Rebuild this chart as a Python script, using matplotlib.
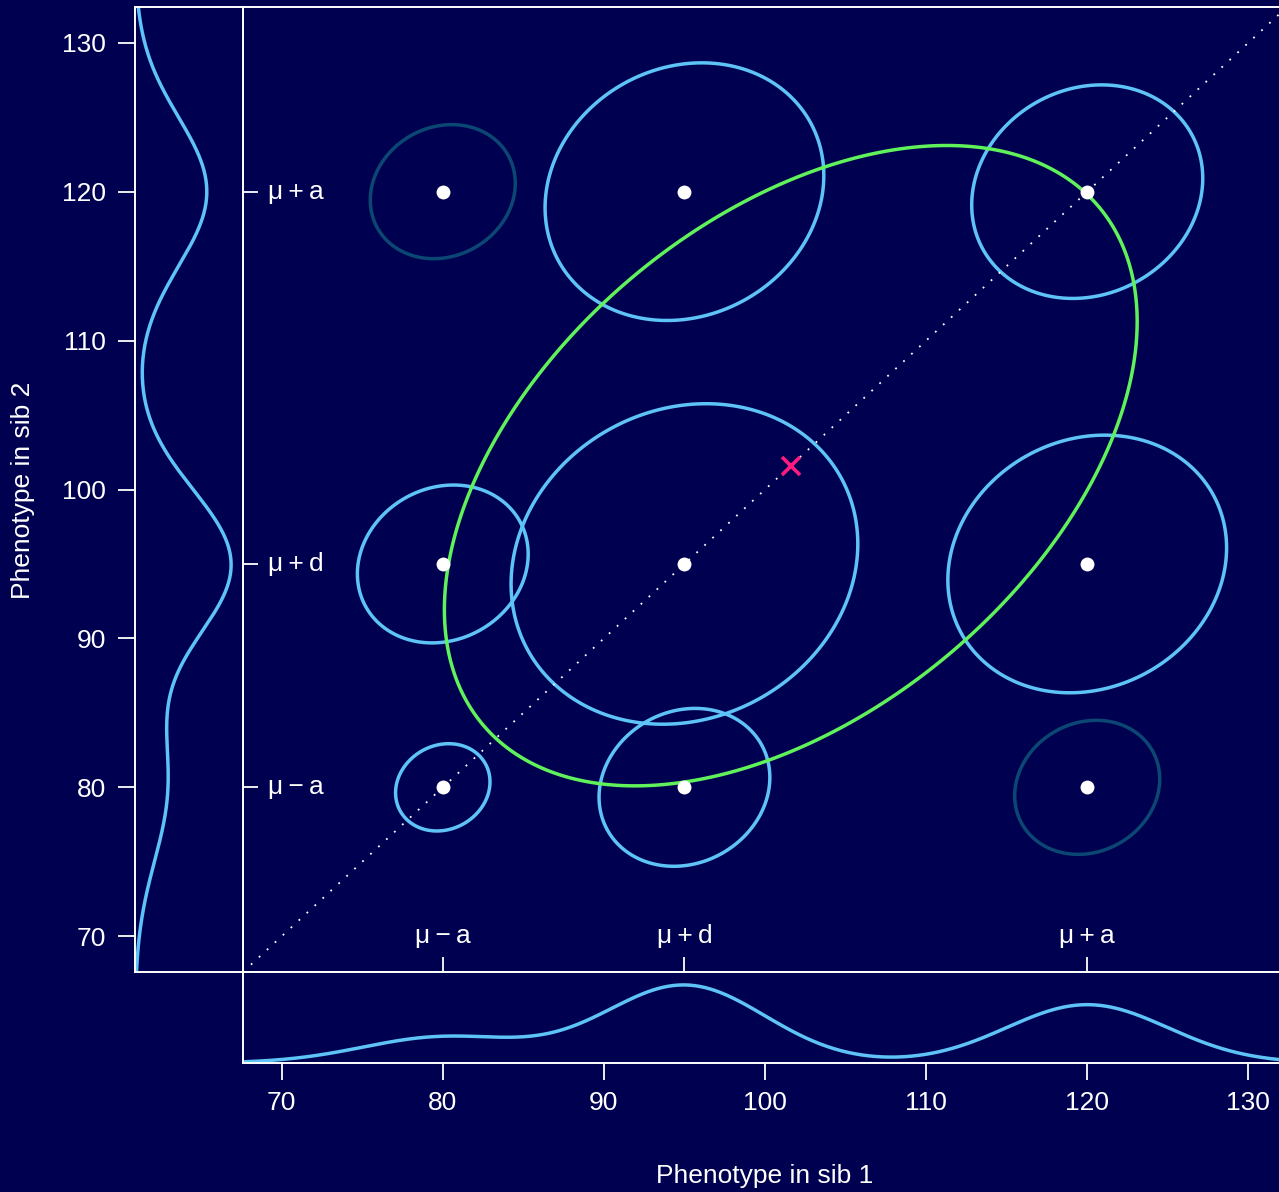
import numpy as np
import matplotlib
matplotlib.use("Agg")
import matplotlib.pyplot as plt
from matplotlib.transforms import blended_transform_factory

plt.rcParams['font.family'] = ['Liberation Sans', 'DejaVu Sans']

# genotype values: mu - a, mu + d, mu + a
geno_vals = [80, 95, 120]
geno_labels = ["μ\u2009−\u2009a", "μ\u2009+\u2009d", "μ\u2009+\u2009a"]
geno_freq = [0.16, 0.48, 0.36]      # aa, Aa, AA  (p_A = 0.6)
env_sd = 5.0

# sib-pair contour radii (sib1 genotype index, sib2 genotype index, radius)
pair_i = [0, 0, 0, 1, 1, 1, 2, 2, 2]
pair_j = [0, 1, 2, 0, 1, 2, 0, 1, 2]
pair_r = [2.93, 5.3, 4.5, 5.3, 10.76, 8.65, 4.5, 8.65, 7.17]
pair_dark = [False, False, True, False, False, False, True, False, False]
pair_rho = 0.125

# overall distribution of the pair
overall_mean = 101.6
overall_r = 21.5
overall_rho = 0.45

tick_vals = [70, 80, 90, 100, 110, 120, 130]
lims = (67.6, 132.4)

bg = '#000050'
blue = '#5ec3f6'
dark = '#0b4773'
green = '#60f25a'
pink = '#ff1a80'
fs = 19


def ellipse(cx, cy, r, rho, n=400):
    t = np.linspace(0, 2 * np.pi, n, endpoint=False)
    x = cx + r * np.cos(t)
    y = cy + r * (rho * np.cos(t) + np.sqrt(1 - rho ** 2) * np.sin(t))
    return x, y


def marginal(z):
    dens = np.zeros_like(z)
    for m, w in zip(geno_vals, geno_freq):
        dens += w * np.exp(-0.5 * ((z - m) / env_sd) ** 2) / (env_sd * np.sqrt(2 * np.pi))
    return dens


fig = plt.figure(figsize=(12.79, 11.92), dpi=100, facecolor=bg)
ax = fig.add_axes([243 / 1279, 1 - 972 / 1192, 1044 / 1279, 965 / 1192])
ax_l = fig.add_axes([135 / 1279, 1 - 972 / 1192, 108 / 1279, 965 / 1192])
ax_b = fig.add_axes([243 / 1279, 1 - 1063 / 1192, 1044 / 1279, 91 / 1192])

for a in (ax, ax_l, ax_b):
    a.set_facecolor(bg)
    for s in a.spines.values():
        s.set_color('white')
        s.set_linewidth(1.4)

# main panel
ax.plot(lims, lims, color='white', lw=1.3, ls=(0, (1, 5)))
for i, j, r, dk in zip(pair_i, pair_j, pair_r, pair_dark):
    ex, ey = ellipse(geno_vals[i], geno_vals[j], r, pair_rho)
    ax.fill(ex, ey, facecolor='none', edgecolor=dark if dk else blue, lw=2.5,
            joinstyle='round')
gx, gy = ellipse(overall_mean, overall_mean, overall_r, overall_rho)
ax.fill(gx, gy, facecolor='none', edgecolor=green, lw=2.5, joinstyle='round')
for i, j in zip(pair_i, pair_j):
    ax.plot(geno_vals[i], geno_vals[j], 'o', color='white', ms=10, mec='none')
ax.plot(overall_mean, overall_mean, 'x', color=pink, ms=13, mew=2.6)

ax.set_xlim(lims)
ax.set_ylim(lims)
ax.set_xticks(geno_vals)
ax.set_yticks(geno_vals)
ax.set_xticklabels([])
ax.set_yticklabels([])
ax.tick_params(direction='in', length=11, width=1.3, color='white')
tx = blended_transform_factory(ax.transData, ax.transAxes)
ty = blended_transform_factory(ax.transAxes, ax.transData)
for v, lab in zip(geno_vals, geno_labels):
    ax.text(v, 0.037, lab, transform=tx, ha='center', va='center',
            color='white', fontsize=fs)
    ax.text(0.024, v, lab, transform=ty, ha='left', va='center',
            color='white', fontsize=fs)

# left marginal: sib 2
zz = np.linspace(lims[0], lims[1], 600)
ax_l.plot(marginal(zz), zz, color=blue, lw=2.5)
ax_l.set_xlim(0, 0.0432)
ax_l.set_ylim(lims)
ax_l.set_xticks([])
ax_l.set_yticks(tick_vals)
ax_l.tick_params(axis='y', direction='out', length=12, width=1.3, color='white',
                 labelcolor='white', labelsize=fs, pad=9)

# bottom marginal: sib 1
ax_b.plot(zz, marginal(zz), color=blue, lw=2.5)
ax_b.set_xlim(lims)
ax_b.set_ylim(0, 0.0448)
ax_b.set_yticks([])
ax_b.set_xticks(tick_vals)
ax_b.tick_params(axis='x', direction='out', length=12, width=1.3, color='white',
                 labelcolor='white', labelsize=fs, pad=8)

fig.text(765 / 1279, 1 - 1176 / 1192, "Phenotype in sib 1", color='white',
         fontsize=fs, ha='center', va='center')
fig.text(23 / 1279, 1 - 490 / 1192, "Phenotype in sib 2", color='white',
         fontsize=fs, ha='center', va='center', rotation=90)

fig.savefig("out.png", dpi=100, facecolor=bg)
